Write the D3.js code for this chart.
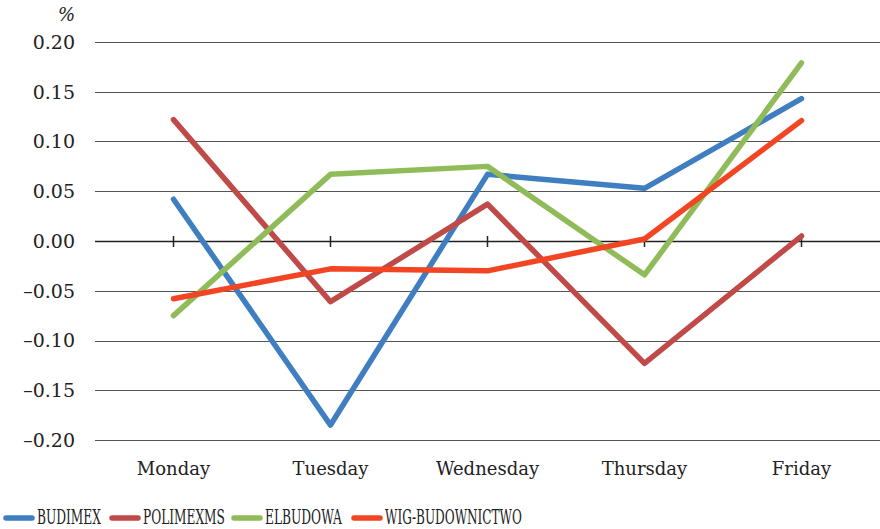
<!DOCTYPE html>
<html><head><meta charset="utf-8">
<script src="https://cdn.jsdelivr.net/npm/d3@7"></script>
<style>body{margin:0;background:#fff}svg{display:block}</style>
</head><body>
<svg id="c" width="880" height="529"></svg>
<script>
const days = ["Monday","Tuesday","Wednesday","Thursday","Friday"];
const budimex = [0.042,-0.185,0.067,0.053,0.143];
const polimexms = [0.122,-0.061,0.037,-0.123,0.005];
const elbudowa = [-0.075,0.067,0.075,-0.034,0.179];
const wig = [-0.058,-0.028,-0.030,0.002,0.121];
const yTicks = [0.20,0.15,0.10,0.05,0.00,-0.05,-0.10,-0.15,-0.20];
const seriesNames = ["BUDIMEX","POLIMEXMS","ELBUDOWA","WIG-BUDOWNICTWO"];
const seriesColors = ["#3f7ec1","#bf4a47","#8fbc58","#f24523"];
const seriesData = [budimex,polimexms,elbudowa,wig];

const svg = d3.select("#c");
const font = "DejaVu Serif";
const x = d3.scaleBand().domain(days).range([95,880]);
const y = d3.scaleLinear().domain([-0.2,0.2]).range([440,42]);

// gridlines
svg.append("g").selectAll("line").data(yTicks).join("line")
  .attr("x1",95).attr("x2",880)
  .attr("y1",d=>Math.round(y(d))+0.5).attr("y2",d=>Math.round(y(d))+0.5)
  .attr("stroke",d=>d===0?"#222":"#555").attr("stroke-width",d=>d===0?1.5:1);

// y labels
const fmt = d => (d<0?"\u2013":"") + Math.abs(d).toFixed(2);
svg.append("g").selectAll("text").data(yTicks).join("text")
  .attr("x",75).attr("y",d=>y(d)).attr("dy","0.36em")
  .attr("text-anchor","end").attr("font-family",font).attr("font-size",19)
  .attr("fill","#222").text(fmt);
svg.append("text").attr("x",75).attr("y",21).attr("text-anchor","end")
  .attr("font-family",font).attr("font-size",18).attr("font-style","italic").attr("fill","#222").text("%");

// x ticks on zero line
svg.append("g").selectAll("line").data(days).join("line")
  .attr("x1",d=>x(d)+x.bandwidth()/2).attr("x2",d=>x(d)+x.bandwidth()/2)
  .attr("y1",y(0)-5).attr("y2",y(0)+6).attr("stroke","#222").attr("stroke-width",1.5);

// x labels
svg.append("g").selectAll("text").data(days).join("text")
  .attr("x",d=>x(d)+x.bandwidth()/2).attr("y",475).attr("text-anchor","middle")
  .attr("font-family",font).attr("font-size",18).attr("fill","#222").text(d=>d);

// lines
const line = d3.line().x((d,i)=>x(days[i])+x.bandwidth()/2).y(d=>y(d));
seriesData.forEach((s,k)=>{
  svg.append("path").datum(s).attr("d",line).attr("fill","none")
    .attr("stroke",seriesColors[k]).attr("stroke-width",5.5)
    .attr("stroke-linecap","round").attr("stroke-linejoin","round");
});

// legend
const legX = [6,112,234,354];
const legW = [64,82,77,137];
seriesNames.forEach((n,k)=>{
  const g = svg.append("g").attr("transform",`translate(${legX[k]},518)`);
  g.append("line").attr("x1",0).attr("x2",26).attr("y1",0).attr("y2",0)
    .attr("stroke",seriesColors[k]).attr("stroke-width",5.5).attr("stroke-linecap","round");
  const t = g.append("text").attr("x",0).attr("y",6)
    .attr("font-family",font).attr("font-size",20).attr("fill","#222").text(n);
  const w = t.node().getComputedTextLength();
  t.attr("transform",`translate(31,0) scale(${legW[k]/w},1)`);
});
</script>
</body></html>
